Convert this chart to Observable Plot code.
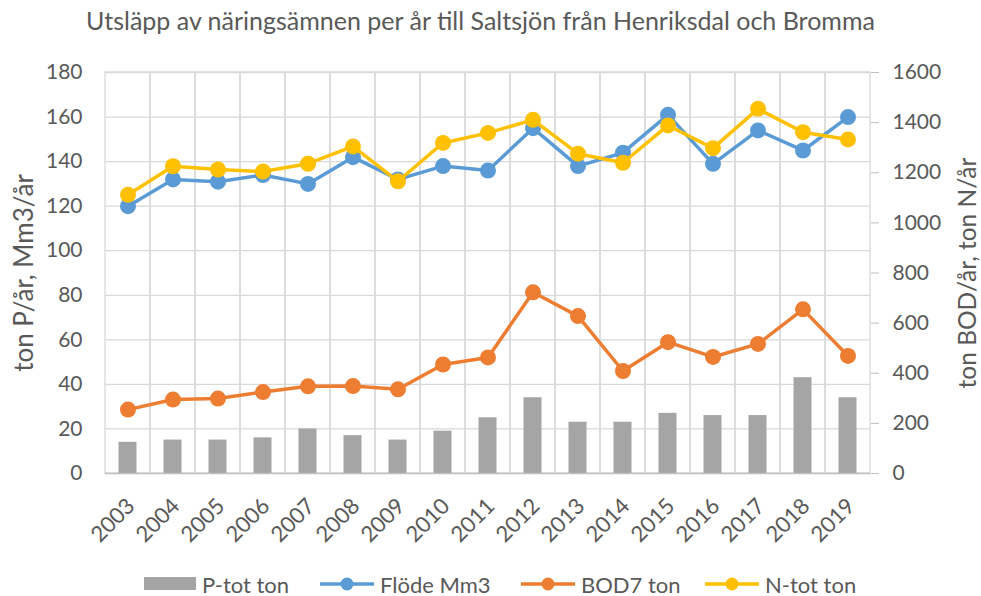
<!DOCTYPE html>
<html><head><meta charset="utf-8">
<script src="https://cdn.jsdelivr.net/npm/d3@7"></script>
<script src="https://cdn.jsdelivr.net/npm/@observablehq/plot@0.6"></script>
<style>
body{margin:0;background:#fff;font-family:Lato,sans-serif;color:#595959;}
#wrap{position:relative;width:981px;height:596px;overflow:hidden;}
#title{position:absolute;top:5px;left:0;width:961px;text-align:center;font-size:25px;white-space:nowrap;}
#chart{position:absolute;top:45px;left:0;}
.lg{position:absolute;top:571px;height:26px;display:flex;align-items:center;font-size:22px;white-space:nowrap;}
.lg svg{margin-right:6px;}
</style></head>
<body><div id="wrap">
<div id="title">Utsläpp av näringsämnen per år till Saltsjön från Henriksdal och Bromma</div>
<div id="chart"></div>
<div id="legend"></div>
</div>
<script>
const years = ["2003","2004","2005","2006","2007","2008","2009","2010","2011","2012","2013","2014","2015","2016","2017","2018","2019"];
const ptot  = [14,15,15,16,20,17,15,19,25,34,23,23,27,26,26,43,34];
const flode = [120,132,131,134,130,142,132,138,136,155,138,144,161,139,154,145,160];
const bod7  = [255,295,299,325,348,349,336,435,463,723,628,409,524,465,517,655,469];
const ntot  = [1112,1226,1213,1205,1236,1305,1166,1319,1359,1411,1276,1240,1389,1298,1455,1362,1333];
const leftTicks = [0,20,40,60,80,100,120,140,160,180];
const rightTicks = [0,200,400,600,800,1000,1200,1400,1600];
const seriesNames = ["P-tot ton","Flöde Mm3","BOD7 ton","N-tot ton"];
const colors = {p:"#A5A5A5", f:"#5B9BD5", b:"#ED7D31", n:"#FFC000"};

const k = 180/1600;
const rows = years.map((y,i)=>({year:y, p:ptot[i], f:flode[i], b:bod7[i]*k, n:ntot[i]*k}));

const lineMarks = (key) => [
  Plot.line(rows, {x:"year", y:key, stroke:colors[key], strokeWidth:3.5, strokeLinejoin:"round"}),
  Plot.dot(rows, {x:"year", y:key, r:8, fill:colors[key], stroke:"none"})
];

const chart = Plot.plot({
  width:981, height:500,
  marginTop:27, marginBottom:72, marginLeft:105, marginRight:111,
  style:{fontFamily:"Lato, sans-serif", fontSize:"21px", color:"#595959", background:"#fff", overflow:"visible"},
  x:{type:"band", domain:years, padding:0, label:null},
  y:{domain:[0,180], label:null},
  marks:[
    Plot.gridY(leftTicks.slice(1), {stroke:"#D9D9D9", strokeOpacity:1, strokeWidth:1.3}),
    Plot.barY(years, {x:d=>d, y1:0, y2:180, fill:"none", stroke:"#D9D9D9", strokeWidth:1.3}),
    Plot.barY(rows, {x:"year", y:"p", fill:colors.p, insetLeft:13.5, insetRight:13.5}),
    Plot.ruleY([0], {stroke:"#BFBFBF", strokeWidth:1.5}),
    ...lineMarks("f"),
    ...lineMarks("b"),
    ...lineMarks("n"),
    Plot.axisY(leftTicks, {anchor:"left", tickSize:0, tickPadding:23, label:null, fontSize:21}),
    Plot.axisY(rightTicks.map(v=>v*k), {anchor:"right", tickSize:8, tickPadding:14, stroke:"#BFBFBF", tickFormat:d=>String(Math.round(d/k)), label:null, fontSize:21}),
    Plot.axisX({tickRotate:-45, tickSize:0, tickPadding:29, dx:3, label:null, fontSize:22}),
    Plot.text(["ton P/år, Mm3/år"], {frameAnchor:"left", textAnchor:"middle", dx:-81, rotate:-90, fontSize:26, fill:"#595959"}),
    Plot.text(["ton BOD/år, ton N/år"], {frameAnchor:"right", textAnchor:"middle", dx:98, rotate:-90, fontSize:24.5, fill:"#595959"})
  ]
});
document.getElementById("chart").appendChild(chart);

// legend
const lg = document.getElementById("legend");
const lefts = [144, 320, 521, 705];
const keys = ["p","f","b","n"];
keys.forEach((key,i)=>{
  const d = document.createElement("div");
  d.className = "lg";
  d.style.left = lefts[i] + "px";
  let sw;
  if (key === "p") {
    sw = `<svg width="52" height="26"><rect x="0" y="6" width="52" height="13" fill="${colors.p}"/></svg>`;
  } else {
    sw = `<svg width="54" height="26"><line x1="0" x2="54" y1="13" y2="13" stroke="${colors[key]}" stroke-width="3.5"/><circle cx="27" cy="13" r="6.5" fill="${colors[key]}"/></svg>`;
  }
  d.innerHTML = sw + `<span>${seriesNames[i]}</span>`;
  lg.appendChild(d);
});
</script>
</body></html>
